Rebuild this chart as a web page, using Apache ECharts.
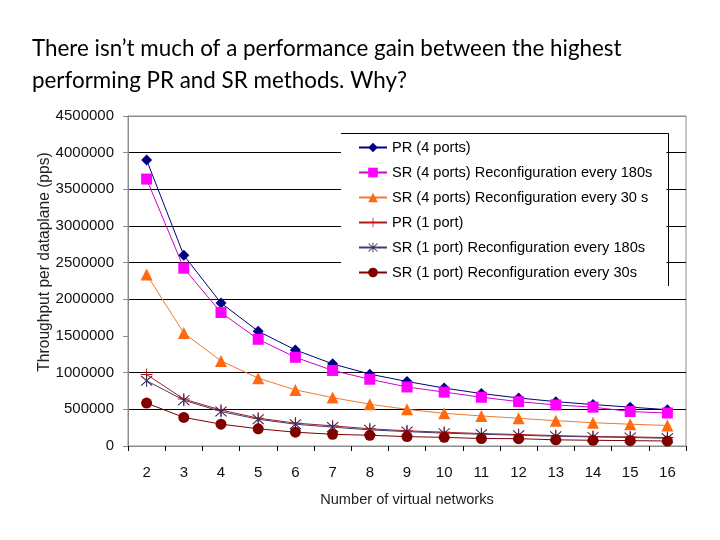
<!DOCTYPE html>
<html>
<head>
<meta charset="utf-8">
<script src="https://cdn.jsdelivr.net/npm/echarts@6/dist/echarts.min.js"></script>
<style>
html,body{margin:0;padding:0;background:#fff;}
#chart{width:720px;height:540px;}
</style>
</head>
<body>
<div id="chart"></div>
<script>
const categories = ['2','3','4','5','6','7','8','9','10','11','12','13','14','15','16'];
const yTicks = [0, 500000, 1000000, 1500000, 2000000, 2500000, 3000000, 3500000, 4000000, 4500000];
const titleText = 'There isn\u2019t much of a performance gain between the highest\nperforming PR and SR methods. Why?';
const xName = 'Number of virtual networks';
const yName = 'Throughput per dataplane (pps)';

const seriesNames = [
  'PR (4 ports)',
  'SR (4 ports) Reconfiguration every 180s',
  'SR (4 ports) Reconfiguration every 30 s',
  'PR (1 port)',
  'SR (1 port) Reconfiguration every 180s',
  'SR (1 port) Reconfiguration every 30s'
];
const pr4 = [3900000, 2600000, 1950000, 1565000, 1310000, 1120000, 980000, 880000, 790000, 715000, 655000, 605000, 565000, 530000, 495000];
const sr4_180 = [3640000, 2425000, 1820000, 1455000, 1210000, 1030000, 910000, 805000, 735000, 665000, 605000, 560000, 530000, 470000, 450000];
const sr4_30 = [2340000, 1540000, 1160000, 925000, 765000, 660000, 570000, 500000, 445000, 410000, 378000, 345000, 318000, 297000, 280000];
const pr1 = [975000, 640000, 490000, 380000, 312000, 275000, 235000, 207000, 188000, 170000, 157000, 142000, 130000, 124000, 115000];
const sr1_180 = [890000, 625000, 470000, 365000, 297000, 257000, 220000, 196000, 175000, 160000, 147000, 133000, 124000, 115000, 106000];
const sr1_30 = [585000, 390000, 298000, 235000, 188000, 160000, 146000, 128000, 118000, 102000, 100000, 84000, 78000, 73000, 68000];

const plusPath = 'path://M4.6,0h0.8v10h-0.8z M0,4.6h10v0.8h-10z';
const starPath = 'path://M4.6,0h0.8v10h-0.8z M0.6,1.2L1.2,0.6L9.4,8.8L8.8,9.4z M8.8,0.6L9.4,1.2L1.2,9.4L0.6,8.8z';

function mk(name, data, color, symbol, size, lineColor) {
  return {
    name: name, type: 'line', data: data,
    symbol: symbol, symbolSize: size,
    itemStyle: { color: color },
    lineStyle: { color: lineColor || color, width: 1 },
    emphasis: { disabled: true },
    animation: false
  };
}

const chart = echarts.init(document.getElementById('chart'));
chart.setOption({
  backgroundColor: '#ffffff',
  animation: false,
  title: {
    text: titleText,
    left: 27, top: 28,
    textStyle: { fontFamily: 'Lato', fontSize: 22.4, fontWeight: 'normal', color: '#000', lineHeight: 32 }
  },
  grid: {
    left: 128, right: 34, top: 116, bottom: 94,
    show: true, borderColor: '#8c8c8c', borderWidth: 1, backgroundColor: 'transparent'
  },
  legend: {
    orient: 'vertical',
    left: 341, top: 134,
    padding: [6, 14, 4, 17],
    itemGap: 10,
    itemWidth: 28, itemHeight: 12,
    backgroundColor: '#fff',
    borderWidth: 0,
    textStyle: { fontFamily: 'Liberation Sans', fontSize: 14.6, color: '#000' },
    data: seriesNames
  },
  graphic: [{
    type: 'polyline', z: 100,
    shape: { points: [[341, 133.5], [668.5, 133.5], [668.5, 286]] },
    style: { stroke: '#000', lineWidth: 1, fill: null }
  }],
  xAxis: {
    type: 'category',
    data: categories,
    boundaryGap: true,
    name: xName,
    nameLocation: 'middle',
    nameGap: 46,
    nameMoveOverlap: false,
    nameTextStyle: { fontFamily: 'Liberation Sans', fontSize: 14.6, color: '#222' },
    axisLine: { lineStyle: { color: '#8c8c8c' } },
    axisTick: { show: true, length: 5, lineStyle: { color: '#000' } },
    axisLabel: { fontFamily: 'Liberation Sans', fontSize: 15, color: '#111', margin: 19 }
  },
  yAxis: {
    type: 'value',
    min: yTicks[0], max: yTicks[yTicks.length - 1], interval: 500000,
    name: yName,
    nameLocation: 'middle',
    nameGap: 75,
    nameMoveOverlap: false,
    nameTextStyle: { fontFamily: 'Liberation Sans', fontSize: 15.6, color: '#222', padding: [0, 0, 0, 38] },
    axisLine: { show: true, lineStyle: { color: '#8c8c8c' } },
    axisTick: { show: true, length: 5, lineStyle: { color: '#8c8c8c' } },
    axisLabel: { fontFamily: 'Liberation Sans', fontSize: 15, color: '#111', margin: 14, formatter: function (v) { return String(v); } },
    splitLine: {
      show: true,
      lineStyle: {
        color: ['#8c8c8c', '#000', '#000', 'rgba(0,0,0,0)', '#000', '#000', '#000', '#000', '#000', '#8c8c8c'],
        width: 1
      }
    }
  },
  series: [
    mk(seriesNames[0], pr4, '#000080', 'diamond', 11),
    mk(seriesNames[1], sr4_180, '#ff00ff', 'rect', 11, '#d000d0'),
    mk(seriesNames[2], sr4_30, '#ff6a10', 'triangle', 12, '#f07830'),
    mk(seriesNames[3], pr1, '#cc1010', plusPath, 12, '#a02020'),
    mk(seriesNames[4], sr1_180, '#3a2a5a', starPath, 12, '#4a3a70'),
    mk(seriesNames[5], sr1_30, '#800000', 'circle', 11)
  ]
});
</script>
</body>
</html>
